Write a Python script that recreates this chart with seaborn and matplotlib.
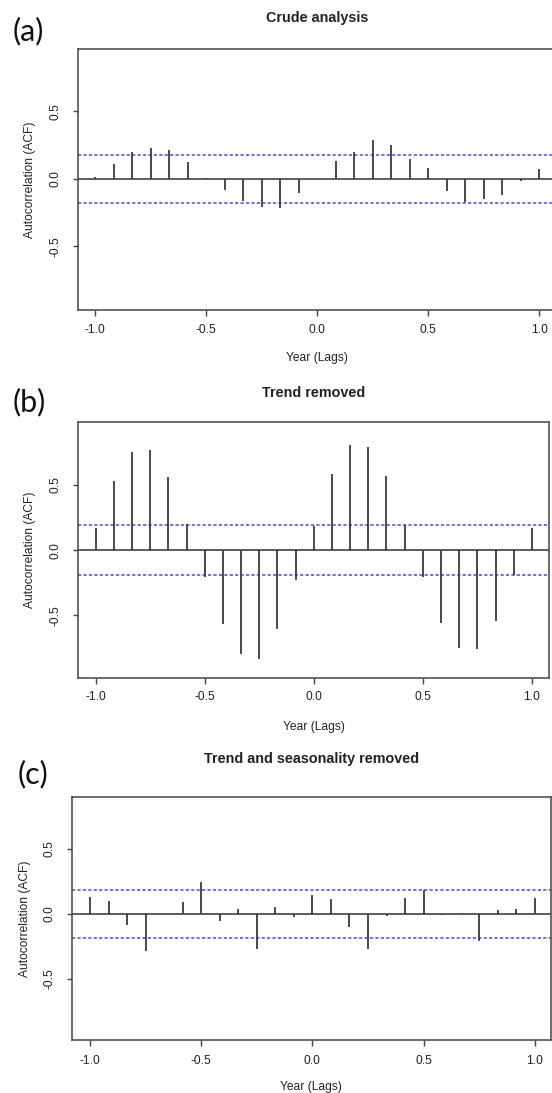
import numpy as np
import matplotlib
matplotlib.use("Agg")
import matplotlib.pyplot as plt
import seaborn as sns

# ---- data -------------------------------------------------------------
lags = np.arange(-12, 13) / 12.0          # lags in years (monthly steps)

acf_crude = [0.015, 0.109, 0.200, 0.227, 0.212, 0.126, 0.005, -0.081, -0.163,
             -0.207, -0.212, -0.101, 0.000, 0.136, 0.200, 0.289, 0.249, 0.151,
             0.084, -0.091, -0.170, -0.151, -0.116, -0.017, 0.072]
acf_trend = [0.171, 0.532, 0.752, 0.767, 0.563, 0.197, -0.205, -0.565, -0.798,
             -0.836, -0.604, -0.225, 0.187, 0.583, 0.806, 0.793, 0.570, 0.194,
             -0.205, -0.560, -0.749, -0.757, -0.542, -0.192, 0.169]
acf_resid = [0.128, 0.097, -0.082, -0.287, 0.003, 0.092, 0.249, -0.056, 0.041,
             -0.267, 0.051, -0.026, 0.144, 0.118, -0.100, -0.267, -0.018, 0.123,
             0.185, -0.010, 0.005, -0.210, 0.031, 0.038, 0.123]

conf_bounds = [0.179, 0.190, 0.187]
titles = ["Crude analysis", "Trend removed", "Trend and seasonality removed"]
tags = ["(a)", "(b)", "(c)"]
xticks = [-1.0, -0.5, 0.0, 0.5, 1.0]
yticks = [-0.5, 0.0, 0.5]
xlabel = "Year (Lags)"
ylabel = "Autocorrelation (ACF)"

# ---- layout (pixels) --------------------------------------------------
W, H = 552, 1093
panels = [
    dict(left=77.5, right=557.0, top=49.0, bottom=310.3,
         xlim=(-1.08, 1.08), ylim=(-0.973, 0.963),
         title_y=18.3, tag_xy=(13, 31), xt_off=20.4, xl_off=48.0,
         yl_x=30.0, yt_x=54.6),
    dict(left=78.3, right=549.3, top=422.3, bottom=678.0,
         xlim=(-1.08, 1.08), ylim=(-0.98, 0.98),
         title_y=393.3, tag_xy=(13, 402), xt_off=20.0, xl_off=48.7,
         yl_x=30.0, yt_x=54.6),
    dict(left=72.3, right=550.5, top=797.0, bottom=1040.0,
         xlim=(-1.08, 1.071), ylim=(-0.97, 0.90),
         title_y=759.0, tag_xy=(18, 774), xt_off=21.7, xl_off=46.7,
         yl_x=25.0, yt_x=49.0),
]

sns.set_theme(style="white")
plt.rcParams["font.family"] = ["Liberation Sans", "DejaVu Sans"]
plt.rcParams["lines.scale_dashes"] = False

PX = 72.0 / 100.0   # points per pixel at dpi=100
TXT = "#222222"

fig = plt.figure(figsize=(W / 100, H / 100), dpi=100)
fig.patch.set_facecolor("white")

series = [acf_crude, acf_trend, acf_resid]

for k, (vals, p) in enumerate(zip(series, panels)):
    ax = fig.add_axes([p["left"] / W, 1 - p["bottom"] / H,
                       (p["right"] - p["left"]) / W,
                       (p["bottom"] - p["top"]) / H])
    ax.set_facecolor("white")
    ax.set_xlim(*p["xlim"])
    ax.set_ylim(*p["ylim"])

    # ACF spikes
    ax.vlines(lags, 0, vals, color="#3a3a3a", lw=1.3, zorder=3)
    ax.axhline(0, color="#333333", lw=1.1, zorder=2)
    ci = conf_bounds[k]
    for s in (ci, -ci):
        ax.axhline(s, color="#5a5ad2", lw=1.2, dashes=(2.3, 1.6), zorder=2)

    for sp in ax.spines.values():
        sp.set_visible(True)
        sp.set_color("#444444")
        sp.set_linewidth(1.1)

    ax.set_xticks(xticks)
    ax.set_xticklabels([f"{v:.1f}" for v in xticks])
    ax.set_yticks(yticks)
    ax.set_yticklabels([f"{v:.1f}" for v in yticks])

    xpad = (p["xt_off"] - 6.0 - 6.5) * PX
    ax.tick_params(axis="x", direction="out", length=6 * PX, width=1.0,
                   color="#444444", bottom=True, labelsize=8.64,
                   labelcolor=TXT, pad=xpad)
    ypad = (p["left"] - p["yt_x"] - 5.0 - 6.5) * PX
    ax.tick_params(axis="y", direction="out", length=5 * PX, width=1.0,
                   color="#444444", left=True, labelsize=8.64,
                   labelcolor=TXT, pad=ypad, labelrotation=90)
    for lab in ax.get_yticklabels():
        lab.set_va("center")

    hpx = p["bottom"] - p["top"]
    wpx = p["right"] - p["left"]
    ax.set_xlabel(xlabel, fontsize=8.64, color=TXT)
    ax.xaxis.set_label_coords(0.5, -p["xl_off"] / hpx)
    ax.xaxis.label.set_va("center")
    ax.set_ylabel(ylabel, fontsize=8.64, color=TXT)
    ax.yaxis.set_label_coords(-(p["left"] - p["yl_x"]) / wpx, 0.5)
    ax.yaxis.label.set_va("center")
    ax.yaxis.label.set_ha("center")

    cx = (p["left"] + min(p["right"], 557.0)) / 2
    fig.text(cx / W, 1 - p["title_y"] / H, titles[k], ha="center",
             va="center", fontsize=10.37, fontweight="bold", color=TXT)
    fig.text(p["tag_xy"][0] / W, 1 - p["tag_xy"][1] / H, tags[k],
             ha="left", va="center", fontsize=22, color="#111111",
             family=["Lato", "DejaVu Sans"])

fig.savefig("out.png", dpi=100, facecolor="white")
